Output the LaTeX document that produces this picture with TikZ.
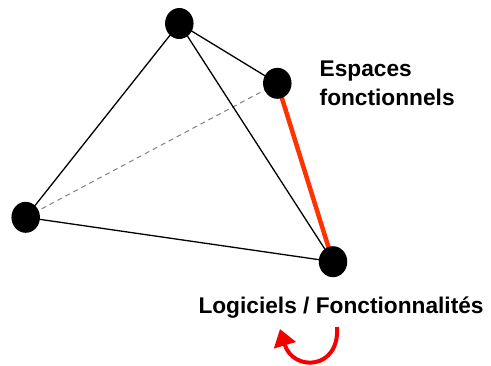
\documentclass[tikz,border=0pt]{standalone}
\usepackage{fontspec}
\setmainfont{Liberation Sans}
\usetikzlibrary{shapes.geometric,arrows.meta}
\definecolor{edgered}{HTML}{FF3300}
\definecolor{arrowred}{HTML}{F50000}
\begin{document}
\begin{tikzpicture}[x=1pt,y=-1pt,
  vertex/.style={ellipse,fill=black,draw=none,minimum width=28.5pt,minimum height=31pt,inner sep=0pt},
  edge/.style={black,line width=1.3pt},
  hidden/.style={gray,line width=1pt,dash pattern=on 5pt off 4pt},
  redge/.style={edgered,line width=4.5pt},
  lbl/.style={inner sep=0pt,font=\bfseries\fontsize{22.7}{28.3}\selectfont,align=left}]
\useasboundingbox (0,0) rectangle (491,365);
\coordinate (ct) at (179.3,23.5);
\coordinate (cr) at (277.3,83.3);
\coordinate (cl) at (25.7,217.3);
\coordinate (cb) at (333,261.7);
\draw[hidden] (cl) -- (cr);
\draw[edge] (ct) -- (cl);
\draw[edge] (ct) -- (cr);
\draw[edge] (ct) -- (cb);
\draw[edge] (cl) -- (cb);
\draw[redge] (cr) -- (cb);
\node[vertex] (top) at (ct) {};
\node[vertex] (right) at (cr) {};
\node[vertex] (left) at (cl) {};
\node[vertex] (bottom) at (cb) {};
\node[lbl,anchor=base west] (esp) at (319.5,105) {Espaces\\fonctionnels};
\node[lbl,anchor=base west] (log) at (198.3,313) {Logiciels / Fonctionnalités};
\draw[arrowred,line width=4pt,-{Triangle[length=17pt,width=22pt]}] (337,327) .. controls (340,370) and (293,372) .. (280,329);
\end{tikzpicture}
\end{document}
